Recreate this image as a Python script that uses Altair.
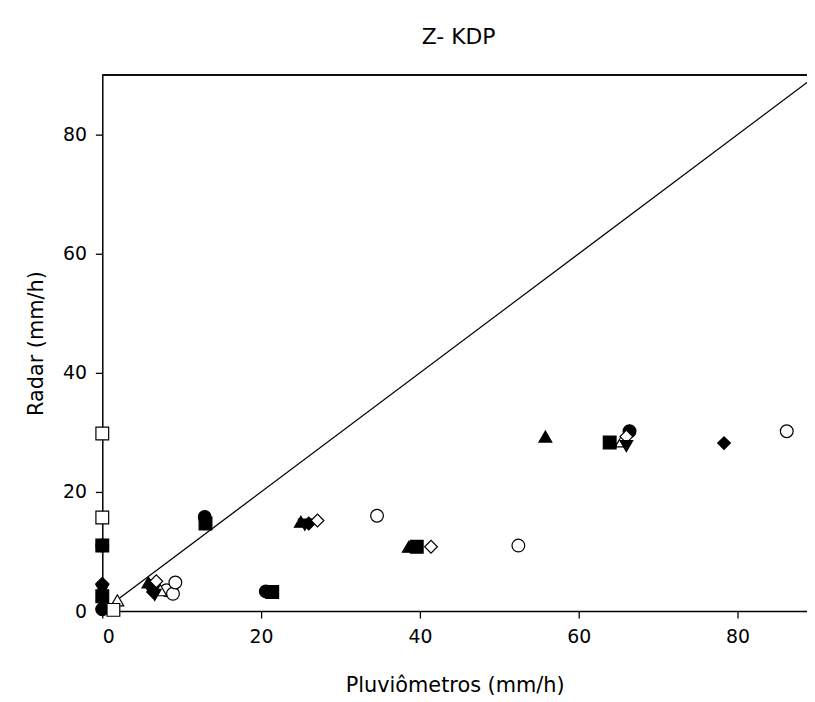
import altair as alt
import pandas as pd

# ---- data ----
series = ["S1", "S2", "S3", "S4", "S5", "S6", "S7", "S8", "S9"]

s1_x = [0.0, 0.0, 6.3, 12.9, 20.6, 66.4]
s1_y = [0.3, 11.0, 4.2, 15.8, 3.3, 30.2]

s2_x = [8.1, 8.9, 9.2, 34.6, 52.4, 86.2]
s2_y = [3.5, 2.9, 4.8, 16.0, 11.0, 30.2]

s3_x = [0.0, 5.8, 25.0, 38.6, 55.8]
s3_y = [1.2, 4.8, 15.0, 10.8, 29.3]

s4_x = [1.9, 7.3, 65.4]
s4_y = [1.8, 3.5, 28.5]

s5_x = [0.0, 0.0, 13.0, 21.4, 39.6, 63.9]
s5_y = [2.5, 11.0, 14.7, 3.2, 10.8, 28.3]

s6_x = [0.0, 0.0, 1.4]
s6_y = [29.8, 15.7, 0.2]

s7_x = [0.0, 6.4, 26.0, 78.3]
s7_y = [4.6, 3.2, 14.7, 28.2]

s8_x = [6.8, 27.1, 41.4, 66.0]
s8_y = [5.0, 15.2, 10.8, 29.3]

s9_x = [0.0, 6.6, 25.5, 66.0]
s9_y = [3.5, 2.7, 14.5, 27.7]

line_x = [0.0, 88.75]

xs = [s1_x, s2_x, s3_x, s4_x, s5_x, s6_x, s7_x, s8_x, s9_x]
ys = [s1_y, s2_y, s3_y, s4_y, s5_y, s6_y, s7_y, s8_y, s9_y]

rows = []
for name, sx, sy in zip(series, xs, ys):
    for a, b in zip(sx, sy):
        rows.append({"series": name, "x": a, "y": b})
df = pd.DataFrame(rows)
df_line = pd.DataFrame({"x": line_x, "y": line_x})

# ---- styles ----
shapes = ["circle", "circle", "triangle-up", "triangle-up", "square", "square",
          "diamond", "diamond", "triangle-down"]
fills = ["black", "white", "black", "white", "black", "white", "black", "white", "black"]

W, H = 710, 540
FONT = "DejaVu Sans"

xscale = alt.Scale(domain=[0, 88.75], nice=False, zero=False)
yscale = alt.Scale(domain=[0, 90], nice=False, zero=False)

xaxis = alt.Axis(title="Pluviômetros (mm/h)", values=[0, 20, 40, 60, 80], format="d",
                 labelPadding=10, titlePadding=28)
yaxis = alt.Axis(title="Radar (mm/h)", values=[0, 20, 40, 60, 80], format="d",
                 labelPadding=9, titlePadding=16)

line = alt.Chart(df_line).mark_line(color="black", strokeWidth=1.3, clip=True).encode(
    x=alt.X("x:Q", scale=xscale, axis=xaxis),
    y=alt.Y("y:Q", scale=yscale, axis=yaxis),
)

top_border = alt.Chart(df_line).mark_rule(color="black", strokeWidth=1.5).encode(
    x=alt.value(0), x2=alt.value(W), y=alt.value(0)
)

points = alt.Chart(df).mark_point(filled=True, size=165, stroke="black",
                                  strokeWidth=1.2, opacity=1).encode(
    x=alt.X("x:Q", scale=xscale, axis=xaxis),
    y=alt.Y("y:Q", scale=yscale, axis=yaxis),
    shape=alt.Shape("series:N", scale=alt.Scale(domain=series, range=shapes), legend=None),
    fill=alt.Fill("series:N", scale=alt.Scale(domain=series, range=fills), legend=None),
)

chart = alt.layer(top_border, line, points).properties(
    width=W,
    height=H,
    autosize=alt.AutoSizeParams(type="none"),
    padding={"left": 95, "top": 65, "right": 0, "bottom": 85},
    title=alt.TitleParams("Z- KDP", font=FONT, fontSize=22, fontWeight="normal",
                          color="black", anchor="middle", baseline="alphabetic",
                          offset=9, dx=4),
    background="white",
).configure_view(stroke=None).configure_axis(
    grid=False,
    domainColor="black",
    domainWidth=1.5,
    tickColor="black",
    tickWidth=1.3,
    tickSize=7,
    labelFont=FONT,
    labelFontSize=19,
    labelColor="black",
    titleFont=FONT,
    titleFontSize=21,
    titleFontWeight="normal",
    titleColor="black",
)

chart.save("out.html", embed_options={"renderer": "svg", "actions": False})
